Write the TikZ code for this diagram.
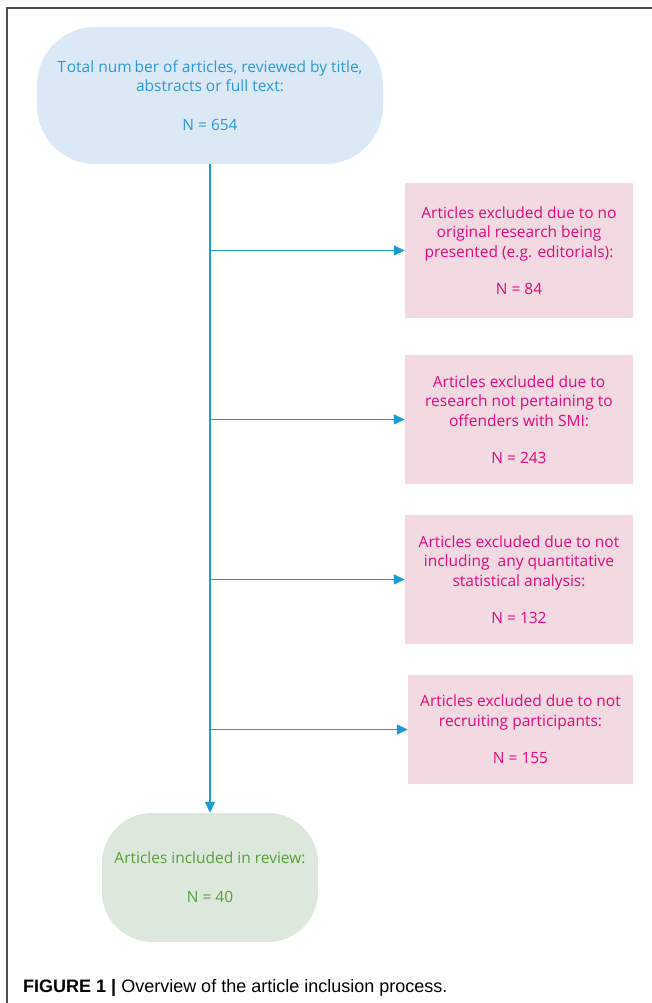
\documentclass[tikz,border=0pt]{standalone}
\usepackage{fontspec}
\setmainfont{Open Sans}
\newfontfamily\capfont{Liberation Sans}
\usetikzlibrary{arrows.meta}
\definecolor{bluefill}{RGB}{219,232,246}
\definecolor{bluetext}{RGB}{45,152,218}
\definecolor{pinkfill}{RGB}{243,217,225}
\definecolor{pinktext}{RGB}{228,10,128}
\definecolor{greenfill}{RGB}{220,232,220}
\definecolor{greentext}{RGB}{88,158,58}
\definecolor{arrowblue}{RGB}{30,155,215}
\definecolor{framegray}{RGB}{80,80,80}
\tikzset{
  boxfont/.style={font=\fontsize{15.5}{19.5}\selectfont, align=center, inner sep=0pt},
  startbox/.style={boxfont, fill=bluefill, text=bluetext, rounded corners=58pt, minimum width=346pt, minimum height=137pt},
  exclbox/.style={boxfont, fill=pinkfill, text=pinktext, minimum width=228pt},
  endbox/.style={boxfont, fill=greenfill, text=greentext, rounded corners=50pt, minimum width=216pt, minimum height=129pt},
  flow/.style={draw=arrowblue, line width=1.4pt, -{Triangle[length=11pt,width=10pt]}},
  framestyle/.style={draw=framegray, line width=1.6pt}
}
\begin{document}
\begin{tikzpicture}[x=1pt,y=-1pt]
\useasboundingbox (0,0) rectangle (652,1003);
\draw[framestyle] (7,1003) -- (7,8) -- (652,8);

\node[startbox] (start) at (210,95.5) {T\kern0.8pt otal num\hspace{3pt}ber of articles, reviewed by title,\\abstracts or full text:\\[19.5pt]N = 654};

\node[exclbox, minimum height=135pt] (ex1) at (519,250.5) {Articles excluded due to no\\original research being\\presented (e.g. editorials):\\[18pt]N = 84};
\node[exclbox, minimum height=129pt] (ex2) at (519,419.5) {Articles excluded due to\\research not pertaining to\\offenders with SMI:\\[18pt]N = 243};
\node[exclbox, minimum height=129pt] (ex3) at (519,579.5) {Articles excluded due to not\\including\ \ any quantitative\\statistical analysis:\\[18pt]N = 132};
\node[exclbox, minimum width=225pt, minimum height=109pt] (ex4) at (520.5,729.5) {Articles excluded due to not\\recruiting participants:\\[18pt]N = 155};

\node[endbox] (incl) at (210,877.5) {Articles included in review:\\[19.5pt]N = 40};

\draw[flow] (start.south) -- (incl.north);
\foreach \b in {ex1,ex2,ex3,ex4}{
  \draw[flow] (start.south |- \b.west) -- (\b.west);
}

\node[anchor=base west, inner sep=0pt, font=\capfont\fontsize{18}{21}\selectfont] (caption) at (23,992) {\textbf{FIGURE 1 |} Overview of the article inclusion process.};
\end{tikzpicture}
\end{document}
